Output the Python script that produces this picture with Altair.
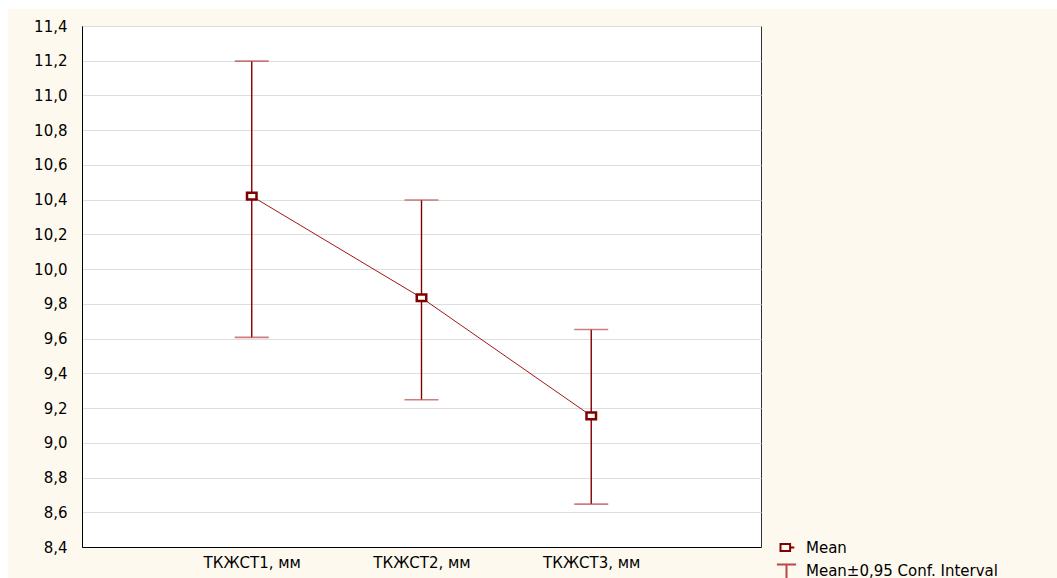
import altair as alt
import pandas as pd

categories = ["ТКЖСТ1, мм", "ТКЖСТ2, мм", "ТКЖСТ3, мм"]
means = [10.42, 9.835, 9.155]
ci_low = [9.607, 9.248, 8.647]
ci_high = [11.198, 10.398, 9.652]
y_ticks = [8.4, 8.6, 8.8, 9.0, 9.2, 9.4, 9.6, 9.8, 10.0, 10.2, 10.4, 10.6, 10.8, 11.0, 11.2, 11.4]
legend_labels = ["Mean", "Mean±0,95 Conf. Interval"]

df = pd.DataFrame({"cat": categories, "mean": means, "lo": ci_low, "hi": ci_high})

FONT = "DejaVu Sans"
DARK = "#800000"
CAP = "#B84848"

x_enc = alt.X(
    "cat:N", sort=categories,
    scale=alt.Scale(type="point", padding=1),
    axis=alt.Axis(title=None, labelAngle=0, ticks=False, labelPadding=8,
                  labelFontSize=15, labelColor="#000000", domainColor="#000000",
                  grid=False, labelOverlap=False),
)
y_scale = alt.Scale(domain=[8.4, 11.4], nice=False, zero=False)

base = alt.Chart(df)

rules = base.mark_rule(color=DARK, strokeWidth=1.4).encode(
    x=x_enc,
    y=alt.Y("lo:Q", scale=y_scale,
            axis=alt.Axis(title=None, values=y_ticks, tickCount=40, ticks=False, labelPadding=15,
                          labelFontSize=15, labelColor="#000000", labelOverlap=False,
                          labelExpr="replace(format(datum.value, '.1f'), '.', ',')",
                          grid=True, gridColor="#DEDEDE", gridWidth=1,
                          domainColor="#000000")),
    y2="hi:Q",
)
cap_lo = base.mark_tick(color=CAP, size=34, thickness=1.6).encode(
    x=alt.X("cat:N", sort=categories), y=alt.Y("lo:Q", scale=y_scale))
cap_hi = base.mark_tick(color=CAP, size=34, thickness=1.6).encode(
    x=alt.X("cat:N", sort=categories), y=alt.Y("hi:Q", scale=y_scale))
line = base.mark_line(color="#A01818", strokeWidth=1).encode(
    x=alt.X("cat:N", sort=categories), y=alt.Y("mean:Q", scale=y_scale))
points = base.mark_point(shape="M-1,-0.7H1V0.7H-1Z", size=90, filled=True,
                         fill="white", stroke=DARK, strokeWidth=2.5, opacity=1).encode(
    x=alt.X("cat:N", sort=categories), y=alt.Y("mean:Q", scale=y_scale))

# white page strips outside the cream panel
strip_df = pd.DataFrame({"k": [0]})
strip_top = alt.Chart(strip_df).mark_rect(color="white").encode(
    x=alt.value(-82), x2=alt.value(975), y=alt.value(-26), y2=alt.value(-17))
strip_left = alt.Chart(strip_df).mark_rect(color="white").encode(
    x=alt.value(-82), x2=alt.value(-74), y=alt.value(-26), y2=alt.value(552))

# legend
leg_df = pd.DataFrame({"series": legend_labels})
leg = alt.Legend(title=None, orient="none", legendX=697, legendY=514,
                 labelFontSize=15, labelColor="#000000", labelFont=FONT, labelLimit=400,
                 symbolSize=144, symbolFillColor="white", symbolOpacity=1,
                 symbolStrokeWidth=2, rowPadding=4, labelOffset=12, padding=0)
legend_layer = alt.Chart(leg_df).mark_point(opacity=0, filled=False).encode(
    x=alt.value(0), y=alt.value(0),
    shape=alt.Shape("series:N", scale=alt.Scale(
        domain=legend_labels,
        range=["M-1,-0.6H0.6V0.6H-1Z M0.6,0H1.3", "M-1.6,-1H1.6M0,-1V2.2"]), legend=leg),
    color=alt.Color("series:N", scale=alt.Scale(domain=legend_labels,
                                                 range=[DARK, CAP]), legend=leg),
)

chart = alt.layer(strip_top, strip_left, rules, cap_lo, cap_hi, line, points, legend_layer).properties(
    width=679, height=521,
    autosize=alt.AutoSizeParams(type="none"),
    padding={"left": 82, "top": 26, "right": 296, "bottom": 31},
    background="#FEF9EE",
).configure(font=FONT).configure_view(
    fill="white", stroke="#333333", strokeWidth=1
)

chart.save("out.html", embed_options={"renderer": "svg", "actions": False})
